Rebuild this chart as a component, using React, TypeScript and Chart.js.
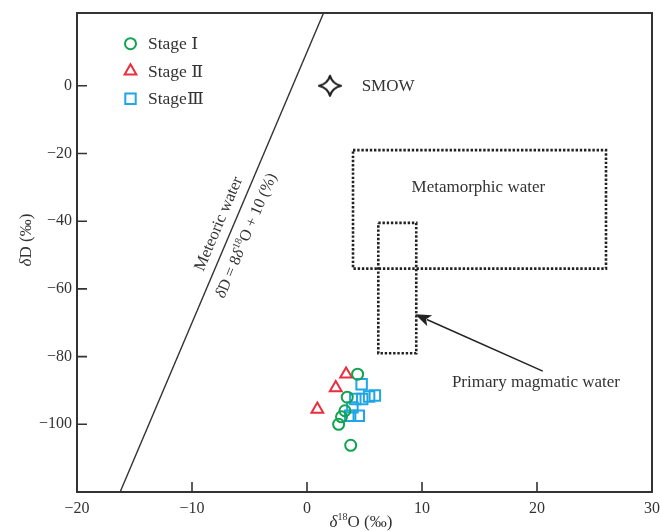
import React, { useEffect, useRef } from 'react';
import { Chart, registerables } from 'chart.js';

Chart.register(...registerables);

// ---- data ----
const stage1X = [4.4, 3.5, 3.3, 3.0, 2.75, 3.8];
const stage1Y = [-85.2, -92.0, -96.0, -97.8, -100.0, -106.2];
const stage2X = [3.4, 2.5, 0.9];
const stage2Y = [-85.2, -89.2, -95.6];
const stage3X = [4.75, 4.2, 4.8, 5.4, 5.9, 3.95, 3.75, 4.5];
const stage3Y = [-88.2, -92.5, -92.5, -91.8, -91.5, -95.0, -97.5, -97.5];
const smowX = [2];
const smowY = [0];
const meteoricX = [-16.25, 1.44];
const meteoricY = [-120, 21.5];
const metamorphicX = [4, 26, 26, 4, 4];
const metamorphicY = [-19, -19, -54, -54, -19];
const magmaticX = [6.2, 9.5, 9.5, 6.2, 6.2];
const magmaticY = [-40.5, -40.5, -79, -79, -40.5];
const xTicks = [-20, -10, 0, 10, 20, 30];
const yTicks = [0, -20, -40, -60, -80, -100];
const seriesNames = ['Stage Ⅰ', 'Stage Ⅱ', 'StageⅢ'];
const seriesColors = ['#12a350', '#ec2d3c', '#1ea6e6'];
const seriesShapes = ['circle', 'triangle', 'rect'];

const FONT = '"Liberation Serif", "DejaVu Serif", serif';
const TEXT = '#333333';

const pts = (xs: number[], ys: number[]) => xs.map((x, i) => ({ x, y: ys[i] }));

function makeStar(): HTMLCanvasElement {
  const c = document.createElement('canvas');
  c.width = 26;
  c.height = 24;
  const ctx = c.getContext('2d')!;
  const cx = 13, cy = 12, rx = 11, ry = 10, k = 2.2;
  ctx.beginPath();
  ctx.moveTo(cx, cy - ry);
  ctx.quadraticCurveTo(cx + k, cy - k, cx + rx, cy);
  ctx.quadraticCurveTo(cx + k, cy + k, cx, cy + ry);
  ctx.quadraticCurveTo(cx - k, cy + k, cx - rx, cy);
  ctx.quadraticCurveTo(cx - k, cy - k, cx, cy - ry);
  ctx.closePath();
  ctx.fillStyle = '#ffffff';
  ctx.fill();
  ctx.lineWidth = 2.2;
  ctx.lineJoin = 'round';
  ctx.strokeStyle = '#222222';
  ctx.stroke();
  return c;
}

type Part = { t: string; it?: boolean; sup?: boolean };

function drawRich(ctx: CanvasRenderingContext2D, parts: Part[], x: number, yMid: number, size: number, align: 'left' | 'center') {
  const f = (p: Part) => `${p.it ? 'italic ' : ''}${p.sup ? Math.round(size * 0.6) : size}px ${FONT}`;
  let w = 0;
  for (const p of parts) {
    ctx.font = f(p);
    w += ctx.measureText(p.t).width;
  }
  let cx = align === 'center' ? x - w / 2 : x;
  const base = yMid + size * 0.33;
  ctx.textBaseline = 'alphabetic';
  ctx.textAlign = 'left';
  for (const p of parts) {
    ctx.font = f(p);
    ctx.fillText(p.t, cx, p.sup ? base - size * 0.4 : base);
    cx += ctx.measureText(p.t).width;
  }
}

function drawMarker(ctx: CanvasRenderingContext2D, shape: string, x: number, y: number, color: string) {
  ctx.save();
  ctx.strokeStyle = color;
  ctx.lineWidth = 2;
  ctx.beginPath();
  if (shape === 'circle') {
    ctx.arc(x, y, 5.5, 0, Math.PI * 2);
  } else if (shape === 'triangle') {
    const r = 6.8;
    ctx.moveTo(x, y - r);
    ctx.lineTo(x + r * Math.sin(Math.PI * 2 / 3), y - r * Math.cos(Math.PI * 2 / 3));
    ctx.lineTo(x + r * Math.sin(Math.PI * 4 / 3), y - r * Math.cos(Math.PI * 4 / 3));
    ctx.closePath();
  } else {
    ctx.rect(x - 5.2, y - 5.2, 10.4, 10.4);
  }
  ctx.stroke();
  ctx.restore();
}

const overlay = {
  id: 'overlay',
  afterDraw(chart: any) {
    const ctx: CanvasRenderingContext2D = chart.ctx;
    const xs = chart.scales.x;
    const ys = chart.scales.y;
    const { left, right, top, bottom } = chart.chartArea;
    ctx.save();

    // frame
    ctx.strokeStyle = '#333333';
    ctx.lineWidth = 2;
    ctx.strokeRect(left, top, right - left, bottom - top);

    // inward ticks
    ctx.lineWidth = 1.6;
    ctx.beginPath();
    for (const v of xTicks) {
      if (v === xs.min || v === xs.max) continue;
      const px = xs.getPixelForValue(v);
      ctx.moveTo(px, bottom);
      ctx.lineTo(px, bottom - 10);
    }
    for (const v of yTicks) {
      const py = ys.getPixelForValue(v);
      ctx.moveTo(left, py);
      ctx.lineTo(left + 10, py);
    }
    ctx.stroke();

    ctx.fillStyle = TEXT;

    // axis titles
    drawRich(ctx, [{ t: 'δ', it: true }, { t: '18', sup: true }, { t: 'O (‰)' }], 361, 521, 17, 'center');
    ctx.save();
    ctx.translate(25, 240);
    ctx.rotate(-Math.PI / 2);
    drawRich(ctx, [{ t: 'δ', it: true }, { t: 'D (‰)' }], 0, 0, 17, 'center');
    ctx.restore();

    // legend
    const ly = [42.7, 70, 97.7];
    seriesNames.forEach((name, i) => {
      drawMarker(ctx, seriesShapes[i], left + 53.5, top + ly[i] - 12, seriesColors[i]);
      ctx.fillStyle = TEXT;
      drawRich(ctx, [{ t: name }], left + 71, top + ly[i] - 12, 17.5, 'left');
    });

    // SMOW label
    drawRich(ctx, [{ t: 'SMOW' }], xs.getPixelForValue(4.75), ys.getPixelForValue(0), 17, 'left');
    // region labels
    drawRich(ctx, [{ t: 'Metamorphic water' }], xs.getPixelForValue(14.9), ys.getPixelForValue(-29.7), 17, 'center');
    drawRich(ctx, [{ t: 'Primary magmatic water' }], xs.getPixelForValue(12.6), ys.getPixelForValue(-87.4), 17, 'left');

    // arrow
    const tip = { x: xs.getPixelForValue(9.4), y: ys.getPixelForValue(-67.5) };
    const tail = { x: xs.getPixelForValue(20.5), y: ys.getPixelForValue(-84.3) };
    const a = Math.atan2(tip.y - tail.y, tip.x - tail.x);
    const L = 16, W = 6;
    ctx.strokeStyle = '#222222';
    ctx.lineWidth = 1.5;
    ctx.beginPath();
    ctx.moveTo(tail.x, tail.y);
    ctx.lineTo(tip.x - Math.cos(a) * L * 0.8, tip.y - Math.sin(a) * L * 0.8);
    ctx.stroke();
    ctx.fillStyle = '#222222';
    ctx.beginPath();
    ctx.moveTo(tip.x, tip.y);
    ctx.lineTo(tip.x - Math.cos(a) * L - Math.sin(a) * W, tip.y - Math.sin(a) * L + Math.cos(a) * W);
    ctx.lineTo(tip.x - Math.cos(a) * L * 0.75, tip.y - Math.sin(a) * L * 0.75);
    ctx.lineTo(tip.x - Math.cos(a) * L + Math.sin(a) * W, tip.y - Math.sin(a) * L - Math.cos(a) * W);
    ctx.closePath();
    ctx.fill();

    // meteoric line labels
    const p1 = { x: xs.getPixelForValue(meteoricX[0]), y: ys.getPixelForValue(meteoricY[0]) };
    const p2 = { x: xs.getPixelForValue(meteoricX[1]), y: ys.getPixelForValue(meteoricY[1]) };
    const ang = Math.atan2(p2.y - p1.y, p2.x - p1.x);
    const anchor = { x: xs.getPixelForValue(-6.25), y: ys.getPixelForValue(-40) };
    ctx.fillStyle = TEXT;
    ctx.save();
    ctx.translate(anchor.x, anchor.y);
    ctx.rotate(ang);
    drawRich(ctx, [{ t: 'Meteoric water' }], -9, -15, 16.5, 'center');
    drawRich(
      ctx,
      [{ t: 'δ', it: true }, { t: 'D = 8' }, { t: 'δ', it: true }, { t: '18', sup: true }, { t: 'O + 10 (%)' }],
      -9,
      15,
      16,
      'center'
    );
    ctx.restore();

    ctx.restore();
  },
};

export default function App() {
  const ref = useRef<HTMLCanvasElement>(null);
  useEffect(() => {
    const canvas = ref.current!;
    const star = makeStar();
    const tickFont = { family: FONT, size: 16 };
    const fmt = (v: any) => String(v).replace('-', '−');
    const chart = new Chart(canvas, {
      type: 'scatter',
      data: {
        datasets: [
          {
            label: seriesNames[0],
            data: pts(stage1X, stage1Y),
            pointStyle: 'circle',
            pointRadius: 5.5,
            pointBorderWidth: 2,
            borderColor: seriesColors[0],
            backgroundColor: 'rgba(0,0,0,0)',
            pointBorderColor: seriesColors[0],
            pointBackgroundColor: 'rgba(0,0,0,0)',
          },
          {
            label: seriesNames[1],
            data: pts(stage2X, stage2Y),
            pointStyle: 'triangle',
            pointRadius: 6.8,
            pointBorderWidth: 2,
            borderColor: seriesColors[1],
            backgroundColor: 'rgba(0,0,0,0)',
            pointBorderColor: seriesColors[1],
            pointBackgroundColor: 'rgba(0,0,0,0)',
          },
          {
            label: seriesNames[2],
            data: pts(stage3X, stage3Y),
            pointStyle: 'rect',
            pointRadius: 7.4,
            pointBorderWidth: 2,
            borderColor: seriesColors[2],
            backgroundColor: 'rgba(0,0,0,0)',
            pointBorderColor: seriesColors[2],
            pointBackgroundColor: 'rgba(0,0,0,0)',
          },
          {
            label: 'SMOW',
            data: pts(smowX, smowY),
            pointStyle: star as any,
            pointRadius: 12,
          },
          {
            label: 'Meteoric water',
            data: pts(meteoricX, meteoricY),
            showLine: true,
            pointRadius: 0,
            borderColor: '#333333',
            borderWidth: 1.4,
            fill: false,
          },
          {
            label: 'Metamorphic water',
            data: pts(metamorphicX, metamorphicY),
            showLine: true,
            pointRadius: 0,
            borderColor: '#222222',
            borderWidth: 2.6,
            borderDash: [2.4, 1.8],
            fill: false,
          },
          {
            label: 'Primary magmatic water',
            data: pts(magmaticX, magmaticY),
            showLine: true,
            pointRadius: 0,
            borderColor: '#222222',
            borderWidth: 2.6,
            borderDash: [2.4, 1.8],
            fill: false,
          },
        ],
      },
      options: {
        responsive: false,
        animation: false,
        devicePixelRatio: 1,
        layout: { padding: { top: 12, right: 8, bottom: 0, left: 0 } },
        plugins: { legend: { display: false }, tooltip: { enabled: false } },
        scales: {
          x: {
            type: 'linear',
            min: -20,
            max: 30,
            grid: { display: false, drawTicks: false },
            border: { display: false },
            ticks: { font: tickFont, color: TEXT, padding: 7, maxRotation: 0, autoSkip: false, callback: fmt },
            afterBuildTicks: (s: any) => {
              s.ticks = xTicks.map((v) => ({ value: v }));
            },
            afterFit: (s: any) => {
              s.height = 39;
              s.paddingLeft = 0;
              s.paddingRight = 0;
            },
          },
          y: {
            type: 'linear',
            min: -120,
            max: 21.5,
            grid: { display: false, drawTicks: false },
            border: { display: false },
            ticks: { font: tickFont, color: TEXT, padding: 5, autoSkip: false, callback: fmt },
            afterBuildTicks: (s: any) => {
              s.ticks = yTicks.map((v) => ({ value: v }));
            },
            afterFit: (s: any) => {
              s.width = 77;
              s.paddingTop = 0;
              s.paddingBottom = 0;
            },
          },
        },
      } as any,
      plugins: [
        overlay,
        {
          id: 'fixArea',
          afterLayout(chart: any) {
            // pin the plot frame to the reference geometry
            const ca = chart.chartArea;
            const targetRight = 652;
            if (Math.abs(ca.right - targetRight) > 0.5) {
              const xs = chart.scales.x;
              ca.right = targetRight;
              ca.width = ca.right - ca.left;
              xs.right = targetRight;
              xs.width = xs.right - xs.left;
              xs.configure();
            }
          },
        },
      ],
    });
    return () => chart.destroy();
  }, []);
  return (
    <div style={{ position: 'fixed', left: 0, top: 0, width: 660, height: 531, background: '#fff' }}>
      <canvas ref={ref} width={660} height={531} style={{ display: 'block', width: 660, height: 531 }} />
    </div>
  );
}
